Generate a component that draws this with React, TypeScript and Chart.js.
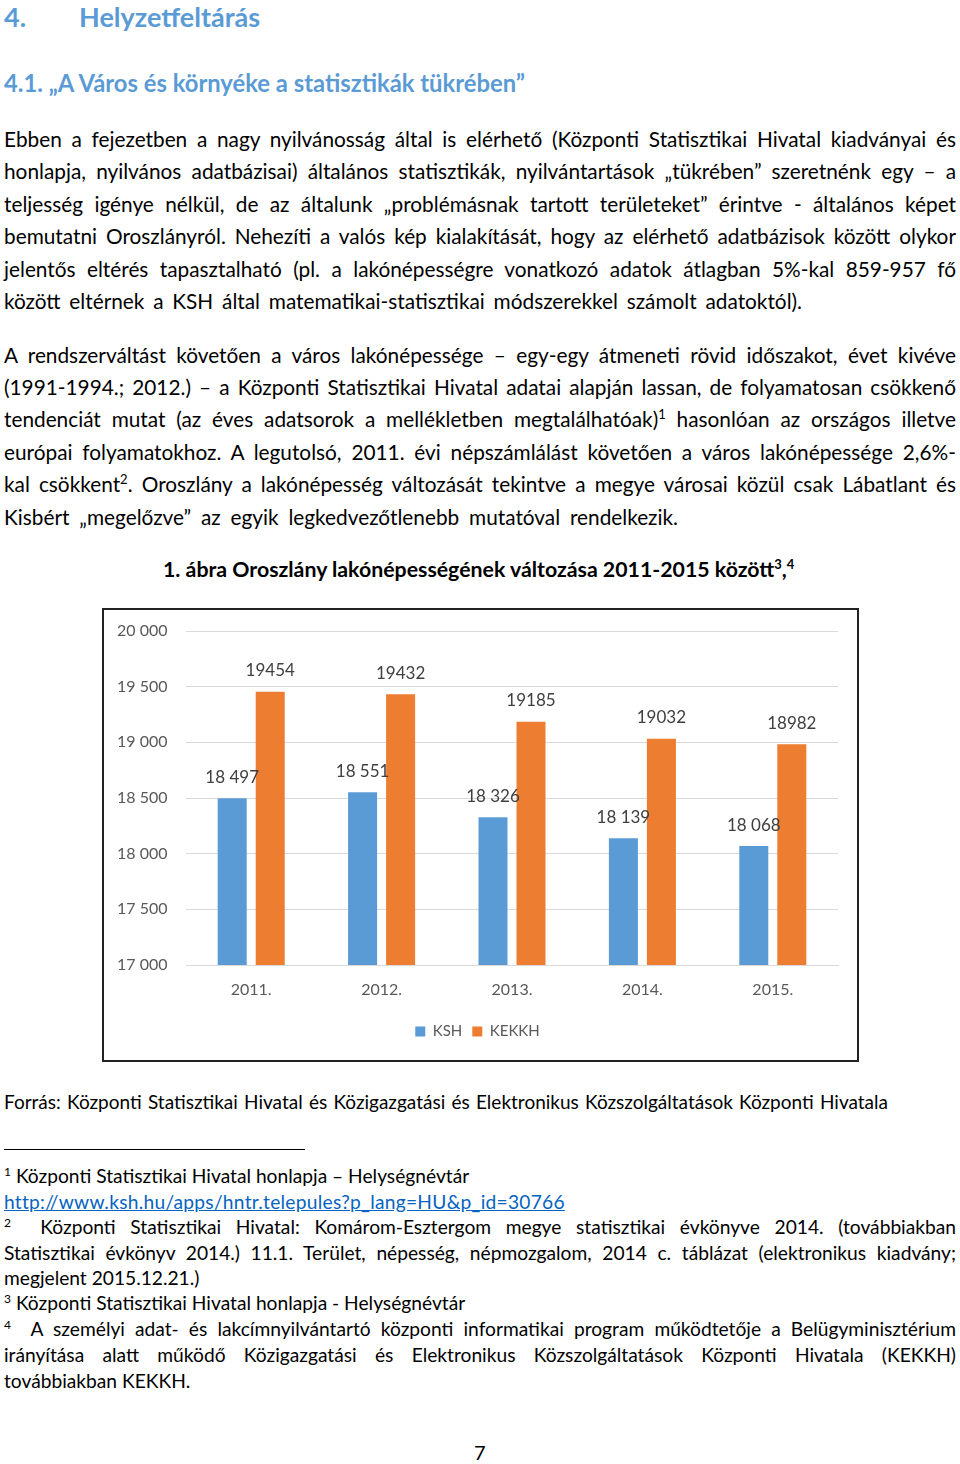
import React, { useEffect, useRef } from "react";
import { Chart, registerables } from "chart.js";
Chart.register(...registerables);

const categories = ["2011.", "2012.", "2013.", "2014.", "2015."];
const seriesNames = ["KSH", "KEKKH"];
const kshValues = [18497, 18551, 18326, 18139, 18068];
const kekkhValues = [19454, 19432, 19185, 19032, 18982];
const yMin = 17000;
const yMax = 20000;
const yStep = 500;

const FONT = "Lato, 'Open Sans', sans-serif";
const BLUE = "#5b9bd5";
const ORANGE = "#ed7d31";

function fmtSpace(n: number): string {
  return String(n).replace(/\B(?=(\d{3})+(?!\d))/g, " ");
}

const valueLabels = {
  id: "valueLabels",
  afterDatasetsDraw(chart: any) {
    const ctx = chart.ctx;
    ctx.save();
    ctx.font = "17px " + FONT;
    ctx.fillStyle = "#404040";
    ctx.textAlign = "center";
    ctx.textBaseline = "middle";
    chart.data.datasets.forEach((ds: any, di: number) => {
      const meta = chart.getDatasetMeta(di);
      meta.data.forEach((bar: any, i: number) => {
        const v = ds.data[i];
        const txt = di === 0 ? fmtSpace(v) : String(v);
        ctx.fillText(txt, bar.x, bar.y - 21);
      });
    });
    ctx.restore();
  },
};

function BarChart() {
  const ref = useRef<HTMLCanvasElement | null>(null);
  useEffect(() => {
    if (!ref.current) return;
    const chart = new Chart(ref.current, {
      type: "bar",
      data: {
        labels: categories,
        datasets: [
          { label: seriesNames[0], data: kshValues, backgroundColor: BLUE, categoryPercentage: 0.583, barPercentage: 0.763 },
          { label: seriesNames[1], data: kekkhValues, backgroundColor: ORANGE, categoryPercentage: 0.583, barPercentage: 0.763 },
        ],
      },
      options: {
        animation: false,
        responsive: false,
        maintainAspectRatio: false,
        layout: { padding: { left: 13, right: 19, top: 21, bottom: 11 } },
        plugins: {
          legend: {
            position: "bottom",
            labels: { boxWidth: 10, boxHeight: 10, font: { family: FONT, size: 15 }, color: "#595959", padding: 10 },
          },
          tooltip: { enabled: false },
          title: { display: false },
        },
        scales: {
          x: {
            grid: { display: false, drawTicks: false },
            border: { display: true, color: "#d9d9d9" },
            ticks: { font: { family: FONT, size: 16 }, color: "#595959", padding: 15 },
            afterFit: (s: any) => { s.height = 49; },
          },
          y: {
            min: yMin,
            max: yMax,
            grid: { color: "#d9d9d9", drawTicks: false },
            border: { display: false },
            ticks: {
              stepSize: yStep,
              crossAlign: "far",
              padding: 0,
              font: { family: FONT, size: 16 },
              color: "#595959",
              callback: (v: any) => fmtSpace(Number(v)),
            },
            afterFit: (s: any) => { s.width = 69; },
          },
        },
      },
      plugins: [valueLabels],
    } as any);
    return () => chart.destroy();
  }, []);
  return <canvas ref={ref} width={753} height={450} style={{ display: "block", width: 753, height: 450 }} />;
}

type LineProps = {
  x: number;
  y: number;
  w?: number;
  size: number;
  bold?: boolean;
  color?: string;
  j?: boolean;
  u?: boolean;
  ls?: number;
  children: React.ReactNode;
};

function Line({ x, y, w, size, bold, color, j, u, ls, children }: LineProps) {
  const h = Math.round(size * 1.4);
  return (
    <div
      style={{
        position: "absolute",
        left: x,
        top: y - h / 2,
        width: w,
        height: h,
        lineHeight: h + "px",
        fontSize: size,
        fontFamily: FONT,
        fontWeight: bold ? 700 : 400,
        color: color || "#000",
        letterSpacing: ls ? ls + "px" : undefined,
        textAlign: j ? "justify" : "left",
        textAlignLast: j ? "justify" : "left",
        textDecoration: u ? "underline" : "none",
        whiteSpace: w ? "normal" : "nowrap",
        overflow: "visible",
      } as any}
    >
      {children}
    </div>
  );
}

const Sup = ({ children, size = 13 }: { children: React.ReactNode; size?: number }) => (
  <span style={{ fontSize: size, verticalAlign: "super", lineHeight: 0 }}>{children}</span>
);

const BS = 20.8; // body size
const FS = 19.2; // footnote size

export default function App() {
  return (
    <div style={{ position: "absolute", left: 0, top: 0, width: 960, height: 1464, background: "#fff", overflow: "hidden" }}>
      <Line x={4} y={17} size={27} bold color={BLUE}>4.</Line>
      <Line x={79} y={17} size={27} bold color={BLUE}>Helyzetfeltárás</Line>
      <Line x={4} y={83} size={23.8} bold color={BLUE}>4.1. „A Város és környéke a statisztikák tükrében”</Line>

      <Line x={4} y={138} w={952} size={BS} j>Ebben a fejezetben a nagy nyilvánosság által is elérhető (Központi Statisztikai Hivatal kiadványai és</Line>
      <Line x={4} y={170} w={952} size={BS} j>honlapja, nyilvános adatbázisai) általános statisztikák, nyilvántartások „tükrében” szeretnénk egy – a</Line>
      <Line x={4} y={203} w={952} size={BS} j>teljesség igénye nélkül, de az általunk „problémásnak tartott területeket” érintve - általános képet</Line>
      <Line x={4} y={235} w={952} size={BS} j>bemutatni Oroszlányról. Nehezíti a valós kép kialakítását, hogy az elérhető adatbázisok között olykor</Line>
      <Line x={4} y={268} w={952} size={BS} j>jelentős eltérés tapasztalható (pl. a lakónépességre vonatkozó adatok átlagban 5%-kal 859-957 fő</Line>
      <Line x={4} y={300} w={798} size={BS} j>között eltérnek a KSH által matematikai-statisztikai módszerekkel számolt adatoktól).</Line>

      <Line x={4} y={354} w={952} size={BS} j>A rendszerváltást követően a város lakónépessége – egy-egy átmeneti rövid időszakot, évet kivéve</Line>
      <Line x={4} y={386} w={952} size={BS} j>(1991-1994.; 2012.) – a Központi Statisztikai Hivatal adatai alapján lassan, de folyamatosan csökkenő</Line>
      <Line x={4} y={418} w={952} size={BS} j>tendenciát mutat (az éves adatsorok a mellékletben megtalálhatóak)<Sup>1</Sup> hasonlóan az országos illetve</Line>
      <Line x={4} y={451} w={952} size={BS} j>európai folyamatokhoz. A legutolsó, 2011. évi népszámlálást követően a város lakónépessége 2,6%-</Line>
      <Line x={4} y={483} w={952} size={BS} j>kal csökkent<Sup>2</Sup>. Oroszlány a lakónépesség változását tekintve a megye városai közül csak Lábatlant és</Line>
      <Line x={4} y={516} w={674} size={BS} j>Kisbért „megelőzve” az egyik legkedvezőtlenebb mutatóval rendelkezik.</Line>

      <Line x={163} y={569} size={21.3} bold>1. ábra Oroszlány lakónépességének változása 2011-2015 között<Sup size={13}>3</Sup>,<Sup size={13}>4</Sup></Line>

      <div style={{ position: "absolute", left: 102, top: 608, width: 753, height: 450, border: "2px solid #222" }}>
        <BarChart />
      </div>

      <Line x={4} y={1101} w={884} size={19.0} j>Forrás: Központi Statisztikai Hivatal és Közigazgatási és Elektronikus Közszolgáltatások Központi Hivatala</Line>

      <div style={{ position: "absolute", left: 4, top: 1149, width: 301, height: 1, background: "#000" }} />

      <Line x={4} y={1175} size={FS}><Sup size={12}>1</Sup> Központi Statisztikai Hivatal honlapja – Helységnévtár</Line>
      <Line x={4} y={1201} size={FS} color="#0563c1" u ls={0.26}>http://www.ksh.hu/apps/hntr.telepules?p_lang=HU&amp;p_id=30766</Line>
      <Line x={4} y={1226} w={952} size={FS} j><Sup size={12}>2</Sup>&nbsp; Központi Statisztikai Hivatal: Komárom-Esztergom megye statisztikai évkönyve 2014. (továbbiakban</Line>
      <Line x={4} y={1252} w={952} size={FS} j>Statisztikai évkönyv 2014.) 11.1. Terület, népesség, népmozgalom, 2014 c. táblázat (elektronikus kiadvány;</Line>
      <Line x={4} y={1277} size={FS}>megjelent 2015.12.21.)</Line>
      <Line x={4} y={1302} size={FS}><Sup size={12}>3</Sup> Központi Statisztikai Hivatal honlapja - Helységnévtár</Line>
      <Line x={4} y={1328} w={952} size={FS} j><Sup size={12}>4</Sup>&nbsp; A személyi adat- és lakcímnyilvántartó központi informatikai program működtetője a Belügyminisztérium</Line>
      <Line x={4} y={1354} w={952} size={FS} j>irányítása alatt működő Közigazgatási és Elektronikus Közszolgáltatások Központi Hivatala (KEKKH)</Line>
      <Line x={4} y={1380} size={FS}>továbbiakban KEKKH.</Line>

      <Line x={474} y={1452} size={20}>7</Line>
    </div>
  );
}
